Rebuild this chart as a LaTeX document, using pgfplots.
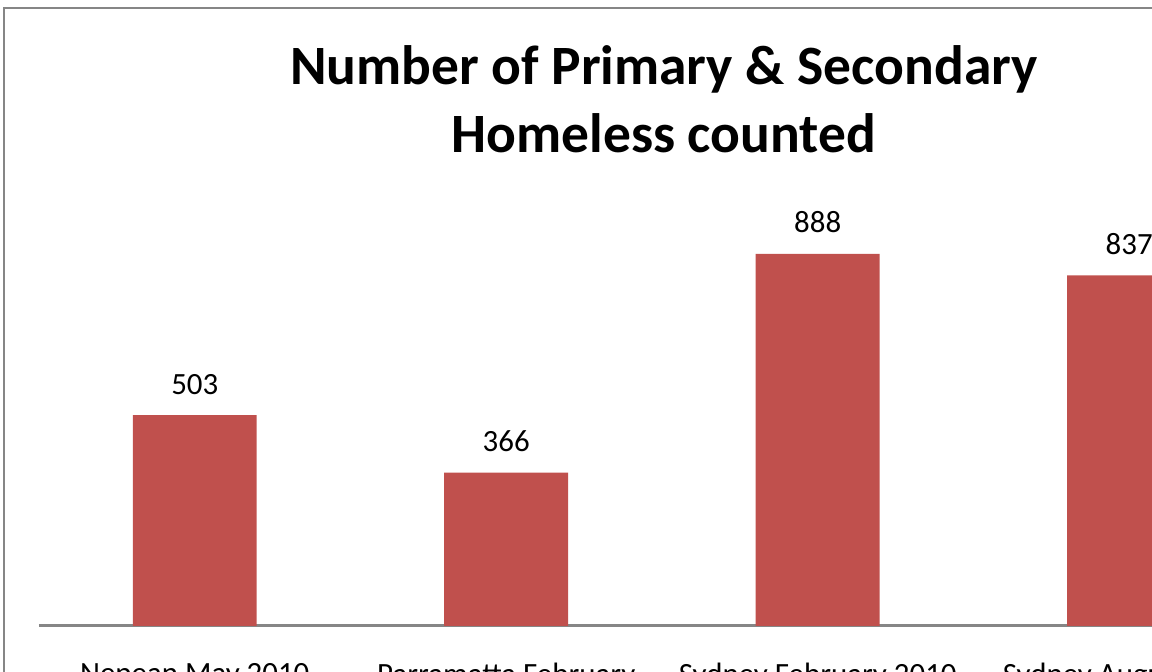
\documentclass[border=0pt]{standalone}
\usepackage{pgfplots}
\pgfplotsset{compat=1.18}
\usepackage{fontspec}
\setmainfont{Carlito}
\definecolor{barred}{HTML}{C0504D}
\definecolor{framegray}{HTML}{868686}
\begin{document}
\begin{tikzpicture}
\path[use as bounding box, clip] (0,0) rectangle (384pt,224pt);
\draw[framegray, line width=0.75pt] (1.4pt,-20pt) -- (1.4pt,221.4pt) -- (420pt,221.4pt);
\node[anchor=base, font=\fontsize{18.5}{22}\selectfont\bfseries] at (221.3pt,195.67pt) {Number of Primary \& Secondary};
\node[anchor=base, font=\fontsize{18.5}{22}\selectfont\bfseries] at (221.3pt,173pt) {Homeless counted};
\begin{axis}[
  at={(13pt,15.33pt)}, anchor=south west,
  scale only axis, width=415.33pt, height=139.67pt,
  xmin=-0.5, xmax=3.5, ymin=0, ymax=1000,
  axis x line*=bottom, axis y line=none,
  x axis line style={framegray, line width=1pt},
  xtick={0,1,2,3}, xtick style={draw=none},
  xticklabels={Nepean May 2010, Parramatta February\\2010, Sydney February 2010, Sydney August 2010},
  xticklabel style={font=\fontsize{10.3}{12.5}\selectfont, align=center, anchor=north, inner sep=0pt, yshift=-8pt},
  /pgf/number format/assume math mode=true,
  ybar, bar width=41.33pt,
  nodes near coords,
  every node near coord/.append style={font=\fontsize{10.3}{12.5}\selectfont, anchor=south, inner sep=0pt, yshift=6.8pt, text=black},
  clip=false,
]
\addplot[fill=barred, draw=none] coordinates {(0,503) (1,366) (2,888) (3,837)};
\end{axis}
\end{tikzpicture}
\end{document}
